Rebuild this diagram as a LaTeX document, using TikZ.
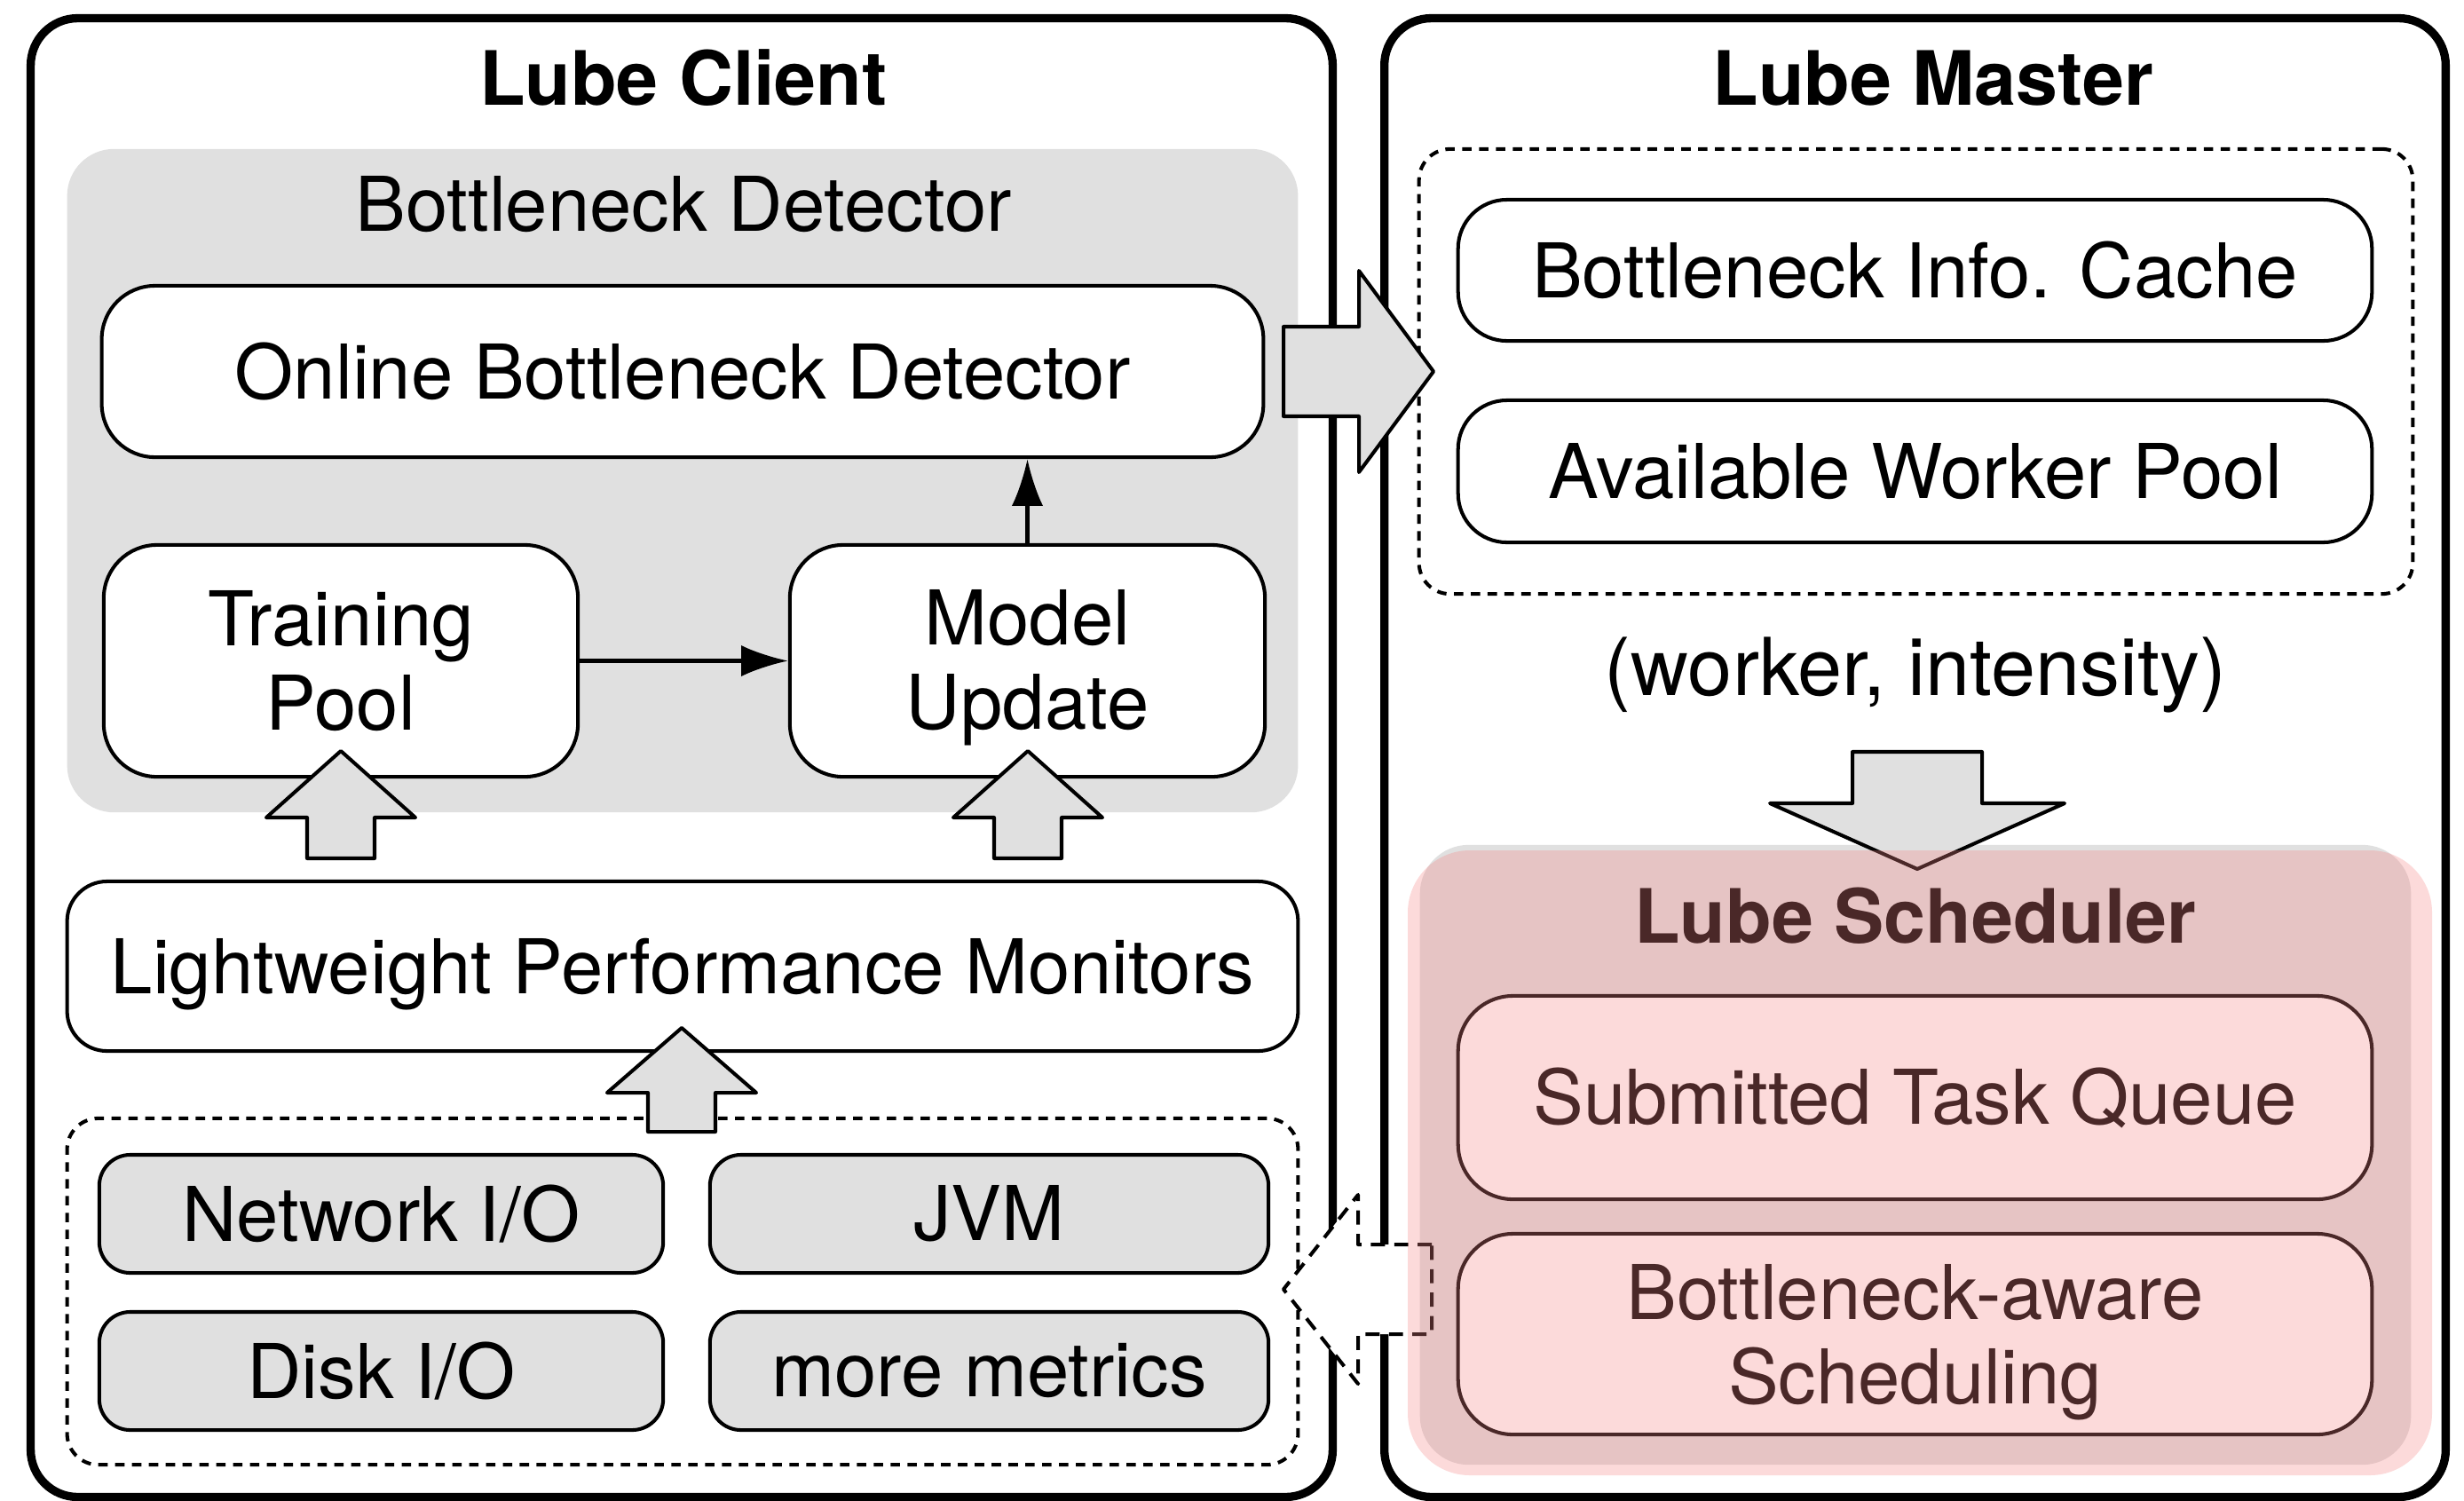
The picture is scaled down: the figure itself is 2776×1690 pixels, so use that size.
\documentclass[tikz,border=0pt]{standalone}
\usepackage{fontspec}
\setmainfont{TeX Gyre Heros}
\usetikzlibrary{arrows.meta}
\definecolor{panelgray}{RGB}{224,224,224}
\definecolor{overlaypink}{RGB}{247,133,133}
\newcommand\blockup[4]{\draw[blockarrow] (#1-38,#4) -- (#1-38,#3) -- (#1-84,#3) -- (#1,#2) -- (#1+84,#3) -- (#1+38,#3) -- (#1+38,#4) -- cycle;}
\begin{document}
\begin{tikzpicture}[x=0.01cm,y=-0.01cm,
  txt/.style={font=\fontsize{24.2}{27}\selectfont},
  titletxt/.style={font=\fontsize{24}{27}\selectfont\bfseries},
  rbox/.style={draw,line width=1.15pt,fill=white,rounded corners=0.6cm,inner sep=0pt,txt,align=center},
  bigframe/.style={draw,line width=2.65pt,rounded corners=0.53cm,inner sep=0pt},
  panel/.style={fill=panelgray,rounded corners=0.53cm,inner sep=0pt},
  dashbox/.style={draw,line width=1.15pt,dash pattern=on 3pt off 2.4pt,rounded corners=0.35cm,inner sep=0pt},
  metric/.style={draw,line width=1.15pt,fill=panelgray,rounded corners=0.35cm,inner sep=0pt,txt},
  blockarrow/.style={draw,line width=1.15pt,fill=panelgray,line join=round},
  arr/.style={line width=1.15pt,-{Latex[length=15pt,width=10pt]}}
]
\useasboundingbox (0,0) rectangle (2776,1690);
\fill[white] (0,0) rectangle (2776,1690);

% outer frames
\node[bigframe,minimum width=14.66cm,minimum height=16.65cm] (client) at (768,853.5) {};
\node[bigframe,minimum width=11.95cm,minimum height=16.65cm] (master) at (2157.5,853.5) {};
\node[titletxt] (clientTitle) at (770,88) {Lube Client};
\node[titletxt] (masterTitle) at (2178,88) {Lube Master};

% bottleneck detector panel
\node[panel,minimum width=13.86cm,minimum height=7.47cm] (detPanel) at (769,541.5) {};
\node[txt] (detLabel) at (770,230) {Bottleneck Detector};
\node[rbox,minimum width=13.08cm,minimum height=1.93cm] (online) at (769,418.5) {Online Bottleneck Detector};
\node[rbox,minimum width=5.34cm,minimum height=2.61cm] (train) at (384,744.5) {Training\\Pool};
\node[rbox,minimum width=5.35cm,minimum height=2.61cm] (model) at (1157.5,744.5) {};
\node[txt,align=center] (modelText) at ([yshift=-0.08cm]model.center) {Model\\Update};
\draw[arr] (train.east) -- (model.west);
\draw[arr] (model.north) -- (model.north |- online.south);

% monitors
\node[rbox,rounded corners=0.45cm,minimum width=13.86cm,minimum height=1.91cm,text depth=0pt] (lpm) at (769,1088.5) {Lightweight Performance Monitors};
\node[dashbox,minimum width=13.86cm,minimum height=3.9cm] (metrics) at (769,1455) {};
\node[metric,minimum width=6.35cm,minimum height=1.33cm] (net) at (429.5,1367.5) {Network I/O};
\node[metric,minimum width=6.29cm,minimum height=1.33cm] (jvm) at (1114.5,1367.5) {JVM};
\node[metric,minimum width=6.35cm,minimum height=1.33cm] (disk) at (429.5,1544.5) {Disk I/O};
\node[metric,minimum width=6.29cm,minimum height=1.33cm] (more) at (1114.5,1544.5) {more metrics};

% block arrows (client)
\blockup{384}{846}{921}{967}
\blockup{1158}{846}{921}{967}
\blockup{768}{1158}{1231}{1275}

% master
\node[dashbox,minimum width=11.19cm,minimum height=5.01cm] (cacheGroup) at (2158.5,418.5) {};
\node[rbox,rounded corners=0.55cm,minimum width=10.29cm,minimum height=1.59cm] (cache) at (2157.5,304.5) {Bottleneck Info. Cache};
\node[rbox,rounded corners=0.55cm,minimum width=10.29cm,minimum height=1.6cm] (pool) at (2157.5,531) {Available Worker Pool};
\node[font=\fontsize{25.6}{28}\selectfont] (wi) at (2158,760) {(worker, intensity)};

% right block arrow
\draw[blockarrow] (1446,368) -- (1531,368) -- (1531,305) -- (1615,418.5) -- (1531,532) -- (1531,469) -- (1446,469) -- cycle;

% dashed arrow fill (under scheduler panel)
\fill[white] (1613,1402) -- (1530,1402) -- (1530,1346) -- (1446,1452.5) -- (1530,1559) -- (1530,1503) -- (1613,1503) -- cycle;

% scheduler
\node[panel,rounded corners=0.55cm,minimum width=11.16cm,minimum height=6.98cm] (sched) at (2158,1301) {};
\draw[blockarrow] (2087,847) -- (2233,847) -- (2233,905) -- (2326,905) -- (2160,979) -- (1994,905) -- (2087,905) -- cycle;
\node[titletxt] (schedTitle) at (2158,1032) {Lube Scheduler};
\node[rbox,rounded corners=0.62cm,minimum width=10.29cm,minimum height=2.29cm] (queue) at (2157.5,1236.5) {Submitted Task Queue};
\node[rbox,rounded corners=0.62cm,minimum width=10.29cm,minimum height=2.26cm] (basched) at (2157.5,1503) {};
\node[txt,align=center] (baschedText) at ([yshift=-0.09cm]basched.center) {Bottleneck-aware\\Scheduling};

% dashed arrow outline
\draw[line width=1.15pt,dash pattern=on 4.5pt off 3pt,line join=round] (1613,1402) -- (1530,1402) -- (1530,1346) -- (1446,1452.5) -- (1530,1559) -- (1530,1503) -- (1613,1503) -- cycle;

% translucent overlay
\fill[overlaypink,fill opacity=0.3,rounded corners=0.7cm] (1586,958) rectangle (2740,1662);
\end{tikzpicture}
\end{document}
